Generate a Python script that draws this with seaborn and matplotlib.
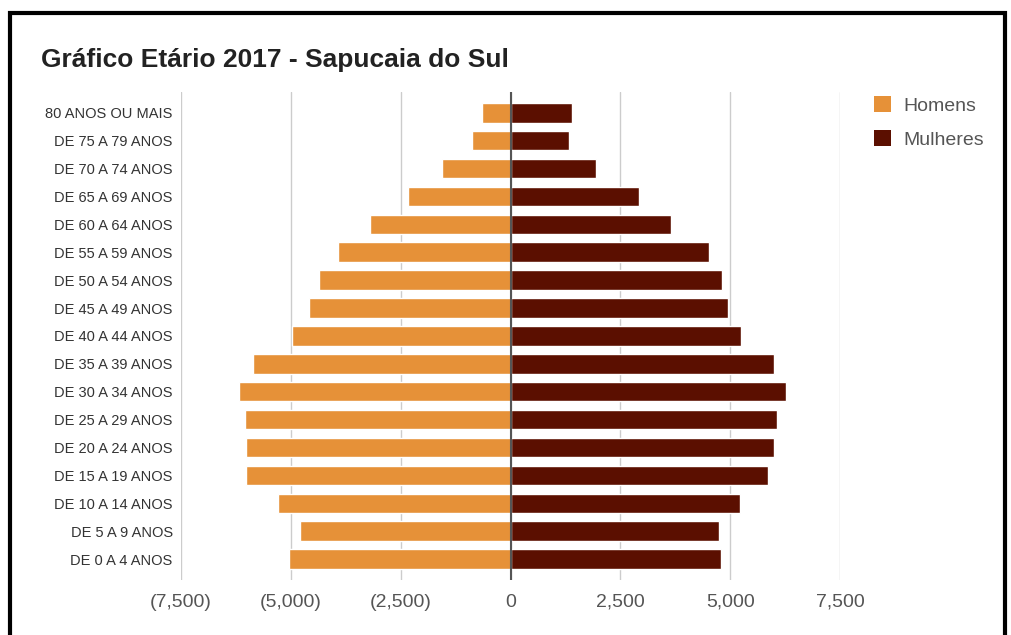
import matplotlib
matplotlib.use("Agg")
import matplotlib.pyplot as plt
from matplotlib.patches import Patch, Rectangle
from matplotlib.ticker import FuncFormatter, MultipleLocator
import seaborn as sns
import pandas as pd

# ---- data ----
faixas = [
    "80 ANOS OU MAIS", "DE 75 A 79 ANOS", "DE 70 A 74 ANOS", "DE 65 A 69 ANOS",
    "DE 60 A 64 ANOS", "DE 55 A 59 ANOS", "DE 50 A 54 ANOS", "DE 45 A 49 ANOS",
    "DE 40 A 44 ANOS", "DE 35 A 39 ANOS", "DE 30 A 34 ANOS", "DE 25 A 29 ANOS",
    "DE 20 A 24 ANOS", "DE 15 A 19 ANOS", "DE 10 A 14 ANOS", "DE 5 A 9 ANOS",
    "DE 0 A 4 ANOS",
]
homens = [655, 868, 1550, 2330, 3194, 3921, 4360, 4580, 4964, 5853, 6169,
          6042, 6014, 6014, 5296, 4785, 5035]
mulheres = [1391, 1330, 1937, 2928, 3655, 4512, 4814, 4960, 5255, 5992, 6280,
            6073, 6001, 5858, 5228, 4735, 4780]
series = ["Homens", "Mulheres"]
cores = ["#E69138", "#5B0F00"]
titulo = "Gráfico Etário 2017 - Sapucaia do Sul"

df = pd.DataFrame({
    "faixa": faixas * 2,
    "sexo": [series[0]] * len(faixas) + [series[1]] * len(faixas),
    "valor": [-v for v in homens] + mulheres,
})

sns.set_theme(style="white")
plt.rcParams["font.family"] = ["Liberation Sans", "DejaVu Sans"]

fig = plt.figure(figsize=(10.11, 6.35), dpi=100)
W, H = 1011, 635
ax = fig.add_axes([181 / W, 1 - 580 / H, 659 / W, (580 - 92) / H])

sns.barplot(data=df, x="valor", y="faixa", hue="sexo", order=faixas,
            hue_order=series, palette=cores, dodge=False, width=0.7,
            saturation=1, orient="h", legend=False, ax=ax, zorder=2)

ax.set_xlim(-7500, 7500)
ax.set_ylim(16.75, -0.745)
ax.xaxis.set_major_locator(MultipleLocator(2500))
ax.xaxis.set_major_formatter(FuncFormatter(
    lambda v, p: "0" if v == 0 else (f"({abs(v):,.0f})" if v < 0 else f"{v:,.0f}")))
ax.grid(axis="x", color="#CCCCCC", linewidth=1)
ax.grid(axis="y", visible=False)
ax.set_axisbelow(True)
ax.axvline(0, color="#555555", linewidth=1.5, zorder=3)
for s in ax.spines.values():
    s.set_visible(False)
ax.set_xlabel("")
ax.set_ylabel("")
ax.tick_params(axis="x", length=0, pad=10, labelsize=14, labelcolor="#555555")
ax.tick_params(axis="y", length=0, pad=6, labelsize=10.5, labelcolor="#333333")

# legend
handles = [Patch(facecolor=c, edgecolor="none", label=l) for c, l in zip(cores, series)]
leg = fig.legend(handles=handles, loc="upper left",
                 bbox_to_anchor=(866 / W, 1 - 88 / H), frameon=False,
                 fontsize=14, handlelength=0.9, handleheight=0.9,
                 handletextpad=0.6, labelspacing=0.8, borderaxespad=0)
for t in leg.get_texts():
    t.set_color("#555555")

# title
fig.text(41 / W, 1 - 67 / H, titulo, fontsize=19, fontweight="bold",
         color="#222222", ha="left", va="baseline")

# black frame
fig.patches.append(Rectangle((9.5 / W, -0.05), (1005 - 9.5) / W, 1.05 - 13 / H,
                             transform=fig.transFigure, fill=False,
                             edgecolor="black", linewidth=3, zorder=10))

fig.savefig("out.png", dpi=100)
